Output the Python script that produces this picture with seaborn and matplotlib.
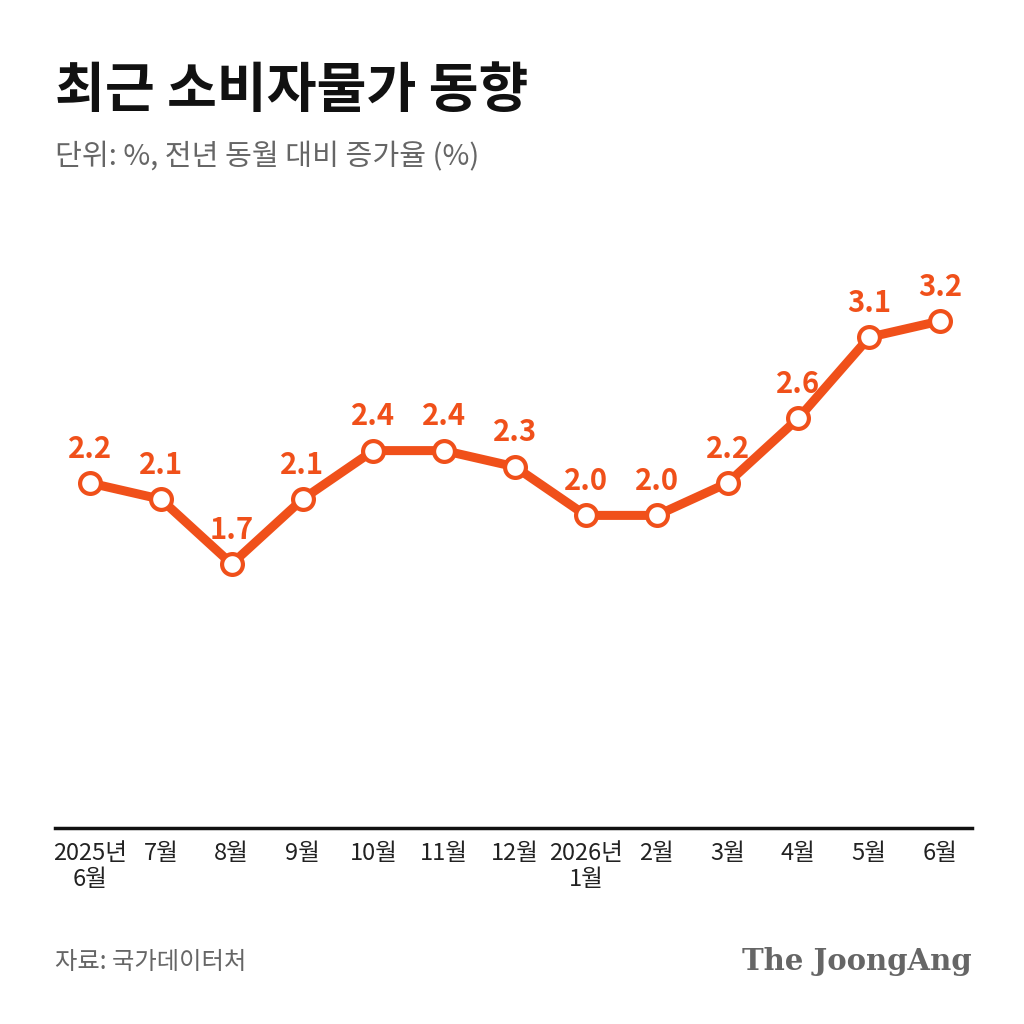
import matplotlib
matplotlib.use("Agg")
import matplotlib.pyplot as plt
import seaborn as sns
import pandas as pd

# ---------------- Data ----------------
months = ["2025년\n6월", "7월", "8월", "9월", "10월", "11월", "12월",
          "2026년\n1월", "2월", "3월", "4월", "5월", "6월"]
cpi = [2.2, 2.1, 1.7, 2.1, 2.4, 2.4, 2.3, 2.0, 2.0, 2.2, 2.6, 3.1, 3.2]

df = pd.DataFrame({"x": range(len(months)), "cpi": cpi})

sns.set_theme(style="white")
plt.rcParams["font.family"] = ["Noto Sans CJK KR", "DejaVu Sans"]

orange = "#F0501A"

fig = plt.figure(figsize=(10.24, 10.24), dpi=100)
ax = fig.add_axes([55 / 1024, 196 / 1024, 917 / 1024, 598 / 1024])

sns.lineplot(data=df, x="x", y="cpi", ax=ax, color=orange, linewidth=6.5,
             marker="o", markersize=15, markerfacecolor="white",
             markeredgecolor=orange, markeredgewidth=3)

for i, v in enumerate(cpi):
    ax.annotate(f"{v:.1f}", (i, v), xytext=(0, 14), textcoords="offset points",
                ha="center", va="bottom", color=orange, fontsize=21,
                fontweight="bold")

ax.set_xlim(-0.494, 12.45)
ax.set_ylim(0.07, 3.762)
ax.set_xticks(range(len(months)))
ax.set_xticklabels(months, fontsize=17, color="#222222", linespacing=1.15, va="top")
ax.tick_params(axis="x", length=0, pad=10)
ax.set_yticks([])
ax.set_xlabel("")
ax.set_ylabel("")
for s in ["top", "right", "left"]:
    ax.spines[s].set_visible(False)
ax.spines["bottom"].set_color("#111111")
ax.spines["bottom"].set_linewidth(2.5)

# -------------- Texts ----------------
fig.text(55 / 1024, 1 - 92 / 1024, "최근 소비자물가 동향", fontsize=39,
         fontweight="bold", color="#111111", va="center", ha="left")
fig.text(55 / 1024, 1 - 157 / 1024, "단위: %, 전년 동월 대비 증가율 (%)",
         fontsize=21, color="#666666", va="center", ha="left")
fig.text(55 / 1024, 1 - 962 / 1024, "자료: 국가데이터처", fontsize=17.5,
         color="#666666", va="center", ha="left")
fig.text(972 / 1024, 1 - 962 / 1024, "The JoongAng", fontsize=21,
         fontweight="bold", family="DejaVu Serif", color="#666666",
         va="center", ha="right")

fig.savefig("out.png", dpi=100, facecolor="white")
